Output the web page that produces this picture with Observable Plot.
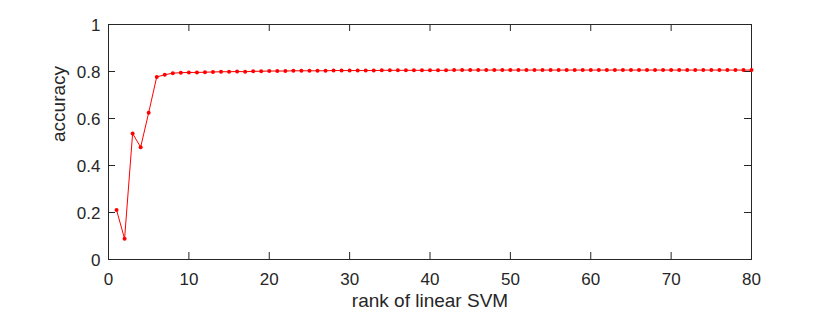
<!DOCTYPE html>
<html>
<head>
<meta charset="utf-8">
<script src="https://cdn.jsdelivr.net/npm/d3@7"></script>
<script src="https://cdn.jsdelivr.net/npm/@observablehq/plot@0.6"></script>
<style>
  html, body { margin: 0; padding: 0; background: #fff; }
  #chart svg { display: block; }
</style>
</head>
<body>
<div id="chart"></div>
<script>
const ranks = d3.range(1, 81);
const accuracy = [
  0.211, 0.088, 0.536, 0.478, 0.625, 0.777, 0.786, 0.793, 0.795, 0.796,
  0.796, 0.797, 0.798, 0.799, 0.799, 0.800, 0.799, 0.801, 0.801, 0.802,
  0.802, 0.802, 0.803, 0.803, 0.803, 0.803, 0.803, 0.804, 0.804, 0.804,
  0.804, 0.804, 0.804, 0.805, 0.805, 0.805, 0.805, 0.805, 0.805, 0.805,
  0.805, 0.805, 0.806, 0.806, 0.806, 0.806, 0.806, 0.806, 0.806, 0.806,
  0.806, 0.806, 0.806, 0.806, 0.806, 0.806, 0.806, 0.806, 0.806, 0.806,
  0.806, 0.806, 0.806, 0.806, 0.806, 0.806, 0.806, 0.806, 0.806, 0.806,
  0.806, 0.806, 0.806, 0.806, 0.806, 0.806, 0.806, 0.806, 0.806, 0.806
];
const xTicks = [0, 10, 20, 30, 40, 50, 60, 70, 80];
const yTicks = [0, 0.2, 0.4, 0.6, 0.8, 1];
const xTitle = "rank of linear SVM";
const yTitle = "accuracy";

const data = ranks.map((r, i) => ({rank: r, acc: accuracy[i]}));
const axisColor = "#262626";
const fmt = d => String(+(+d).toFixed(1));

const W = 830, H = 318, mL = 108, mR = 79, mT = 24, mB = 59, tick = 7;
const frameW = W - mL - mR, frameH = H - mT - mB;

const chart = Plot.plot({
  width: W,
  height: H,
  marginLeft: mL,
  marginRight: mR,
  marginTop: mT,
  marginBottom: mB,
  style: {fontFamily: "'Liberation Sans', Arial, sans-serif", fontSize: "17px", color: axisColor, background: "#fff"},
  x: {domain: [0, 80]},
  y: {domain: [0, 1]},
  marks: [
    Plot.frame({stroke: axisColor, strokeWidth: 1}),
    // inward tick marks on all four sides
    Plot.tickX(xTicks, {x: d => d, insetTop: frameH - tick, stroke: axisColor}),
    Plot.tickX(xTicks, {x: d => d, insetBottom: frameH - tick, stroke: axisColor}),
    Plot.tickY(yTicks, {y: d => d, insetRight: frameW - tick, stroke: axisColor}),
    Plot.tickY(yTicks, {y: d => d, insetLeft: frameW - tick, stroke: axisColor}),
    // tick labels
    Plot.axisX(xTicks, {anchor: "bottom", tickSize: 0, tickPadding: 13, fontSize: 17, fill: axisColor,
      tickFormat: fmt, label: null}),
    Plot.axisY(yTicks, {anchor: "left", tickSize: 0, tickPadding: 8, fontSize: 17, fill: axisColor,
      tickFormat: fmt, label: null, dy: 1}),
    // axis titles
    Plot.text([xTitle], {frameAnchor: "bottom", dy: 47, fontSize: 19, fill: axisColor}),
    Plot.text([yTitle], {frameAnchor: "left", dx: -50, rotate: -90, fontSize: 19, fill: axisColor}),
    Plot.line(data, {x: "rank", y: "acc", stroke: "#ff0000", strokeWidth: 1}),
    Plot.dot(data, {x: "rank", y: "acc", fill: "#ff0000", r: 2, stroke: "none"})
  ]
});
document.getElementById("chart").append(chart);
</script>
</body>
</html>
